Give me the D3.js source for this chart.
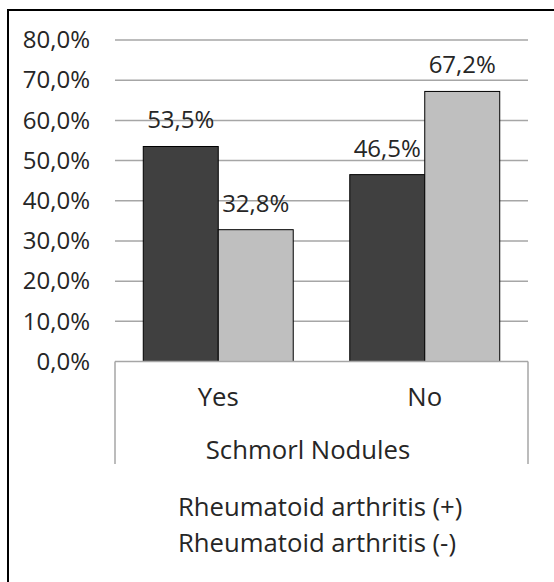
<!DOCTYPE html>
<html>
  <head>
    <meta charset="utf-8">
    <title>Schmorl Nodules</title>
    <style>
      body { margin: 0; background: #fff; }
      svg text { font-family: "Open Sans", sans-serif; fill: #262626; }
      .grid line { stroke: #a6a6a6; stroke-width: 1.5; }
      .bar { stroke: #000; stroke-width: 1; }
    </style>
  </head>
  <body>
  <svg id="chart" width="554" height="582"></svg>
  <script src="https://cdnjs.cloudflare.com/ajax/libs/d3/7.8.5/d3.min.js"></script>
  <script>
    // data
    var categories = ["Yes", "No"];
    var seriesNames = ["Rheumatoid arthritis (+)", "Rheumatoid arthritis (-)"];
    var raPlus = [53.5, 46.5];
    var raMinus = [32.8, 67.2];
    var yTicks = [0, 10, 20, 30, 40, 50, 60, 70, 80];
    var axisTitle = "Schmorl Nodules";

    var colors = ["#404040", "#bfbfbf"];

    var svg = d3.select("#chart");

    // plot box (plotTop, not top: window.top is read-only)
    var plotLeft = 115, plotRight = 528, plotTop = 40, plotBottom = 361.5;
    var numSize = "24px", textSize = "25.7px";

    var locale = d3.formatLocale({decimal: ",", thousands: ".", grouping: [3], currency: ["", ""]});
    var fmt = function(v) { return locale.format(".1f")(v) + "%"; };

    var y = d3.scaleLinear().domain([0, 80]).range([plotBottom, plotTop]);
    var x = d3.scaleBand().domain(categories).range([plotLeft, plotRight]);
    var xs = d3.scaleBand().domain(d3.range(seriesNames.length))
      .range([0, x.bandwidth()]).paddingOuter(0.377);

    // outer frame, runs off the right and bottom edges
    svg.append("rect")
      .attr("x", 8).attr("y", 10)
      .attr("width", 560).attr("height", 590)
      .attr("fill", "none").attr("stroke", "#000").attr("stroke-width", 2);

    // gridlines
    svg.append("g").attr("class", "grid")
      .selectAll("line").data(yTicks.filter(function(d) { return d > 0; }))
      .enter().append("line")
      .attr("x1", plotLeft).attr("x2", plotRight)
      .attr("y1", function(d) { return y(d); })
      .attr("y2", function(d) { return y(d); });

    // y axis labels
    var yAxis = d3.axisLeft(y).tickValues(yTicks).tickFormat(fmt).tickSize(0).tickPadding(25);
    var ga = svg.append("g").attr("transform", "translate(" + plotLeft + ",0)").call(yAxis);
    ga.select(".domain").remove();
    ga.selectAll("text")
      .style("font-family", "'Open Sans', sans-serif")
      .style("font-size", numSize)
      .attr("fill", "#262626");

    // bars
    var rows = categories.map(function(c, i) { return {cat: c, vals: [raPlus[i], raMinus[i]]}; });
    var grp = svg.selectAll(".cat").data(rows).enter().append("g")
      .attr("class", "cat")
      .attr("transform", function(d) { return "translate(" + x(d.cat) + ",0)"; });

    grp.selectAll("rect").data(function(d) { return d.vals; })
      .enter().append("rect")
      .attr("class", "bar")
      .attr("x", function(d, i) { return xs(i); })
      .attr("width", xs.bandwidth())
      .attr("y", function(d) { return y(d); })
      .attr("height", function(d) { return plotBottom - y(d); })
      .attr("fill", function(d, i) { return colors[i]; });

    grp.selectAll("text.lbl").data(function(d) { return d.vals; })
      .enter().append("text")
      .attr("class", "lbl")
      .attr("x", function(d, i) { return xs(i) + xs.bandwidth() / 2; })
      .attr("y", function(d) { return y(d) - 18; })
      .attr("text-anchor", "middle")
      .style("font-size", numSize)
      .text(function(d) { return fmt(d); });

    // category axis box
    var box = svg.append("g").attr("stroke", "#a6a6a6").attr("stroke-width", 1.5);
    box.append("line").attr("x1", plotLeft).attr("x2", plotRight).attr("y1", plotBottom).attr("y2", plotBottom);
    box.append("line").attr("x1", plotLeft).attr("x2", plotLeft).attr("y1", plotBottom).attr("y2", 464);
    box.append("line").attr("x1", plotRight).attr("x2", plotRight).attr("y1", plotBottom).attr("y2", 464);

    svg.selectAll("text.catlbl").data(categories).enter().append("text")
      .attr("class", "catlbl")
      .attr("x", function(d) { return x(d) + x.bandwidth() / 2; })
      .attr("y", 406)
      .attr("text-anchor", "middle")
      .style("font-size", textSize)
      .text(function(d) { return d; });

    svg.append("text")
      .attr("x", 308).attr("y", 459)
      .attr("text-anchor", "middle")
      .style("font-size", textSize)
      .text(axisTitle);

    // legend (text only)
    svg.selectAll("text.leg").data(seriesNames).enter().append("text")
      .attr("class", "leg")
      .attr("x", 178)
      .attr("y", function(d, i) { return 516 + i * 36; })
      .style("font-size", textSize)
      .text(function(d) { return d; });
  </script>
  </body>
</html>
